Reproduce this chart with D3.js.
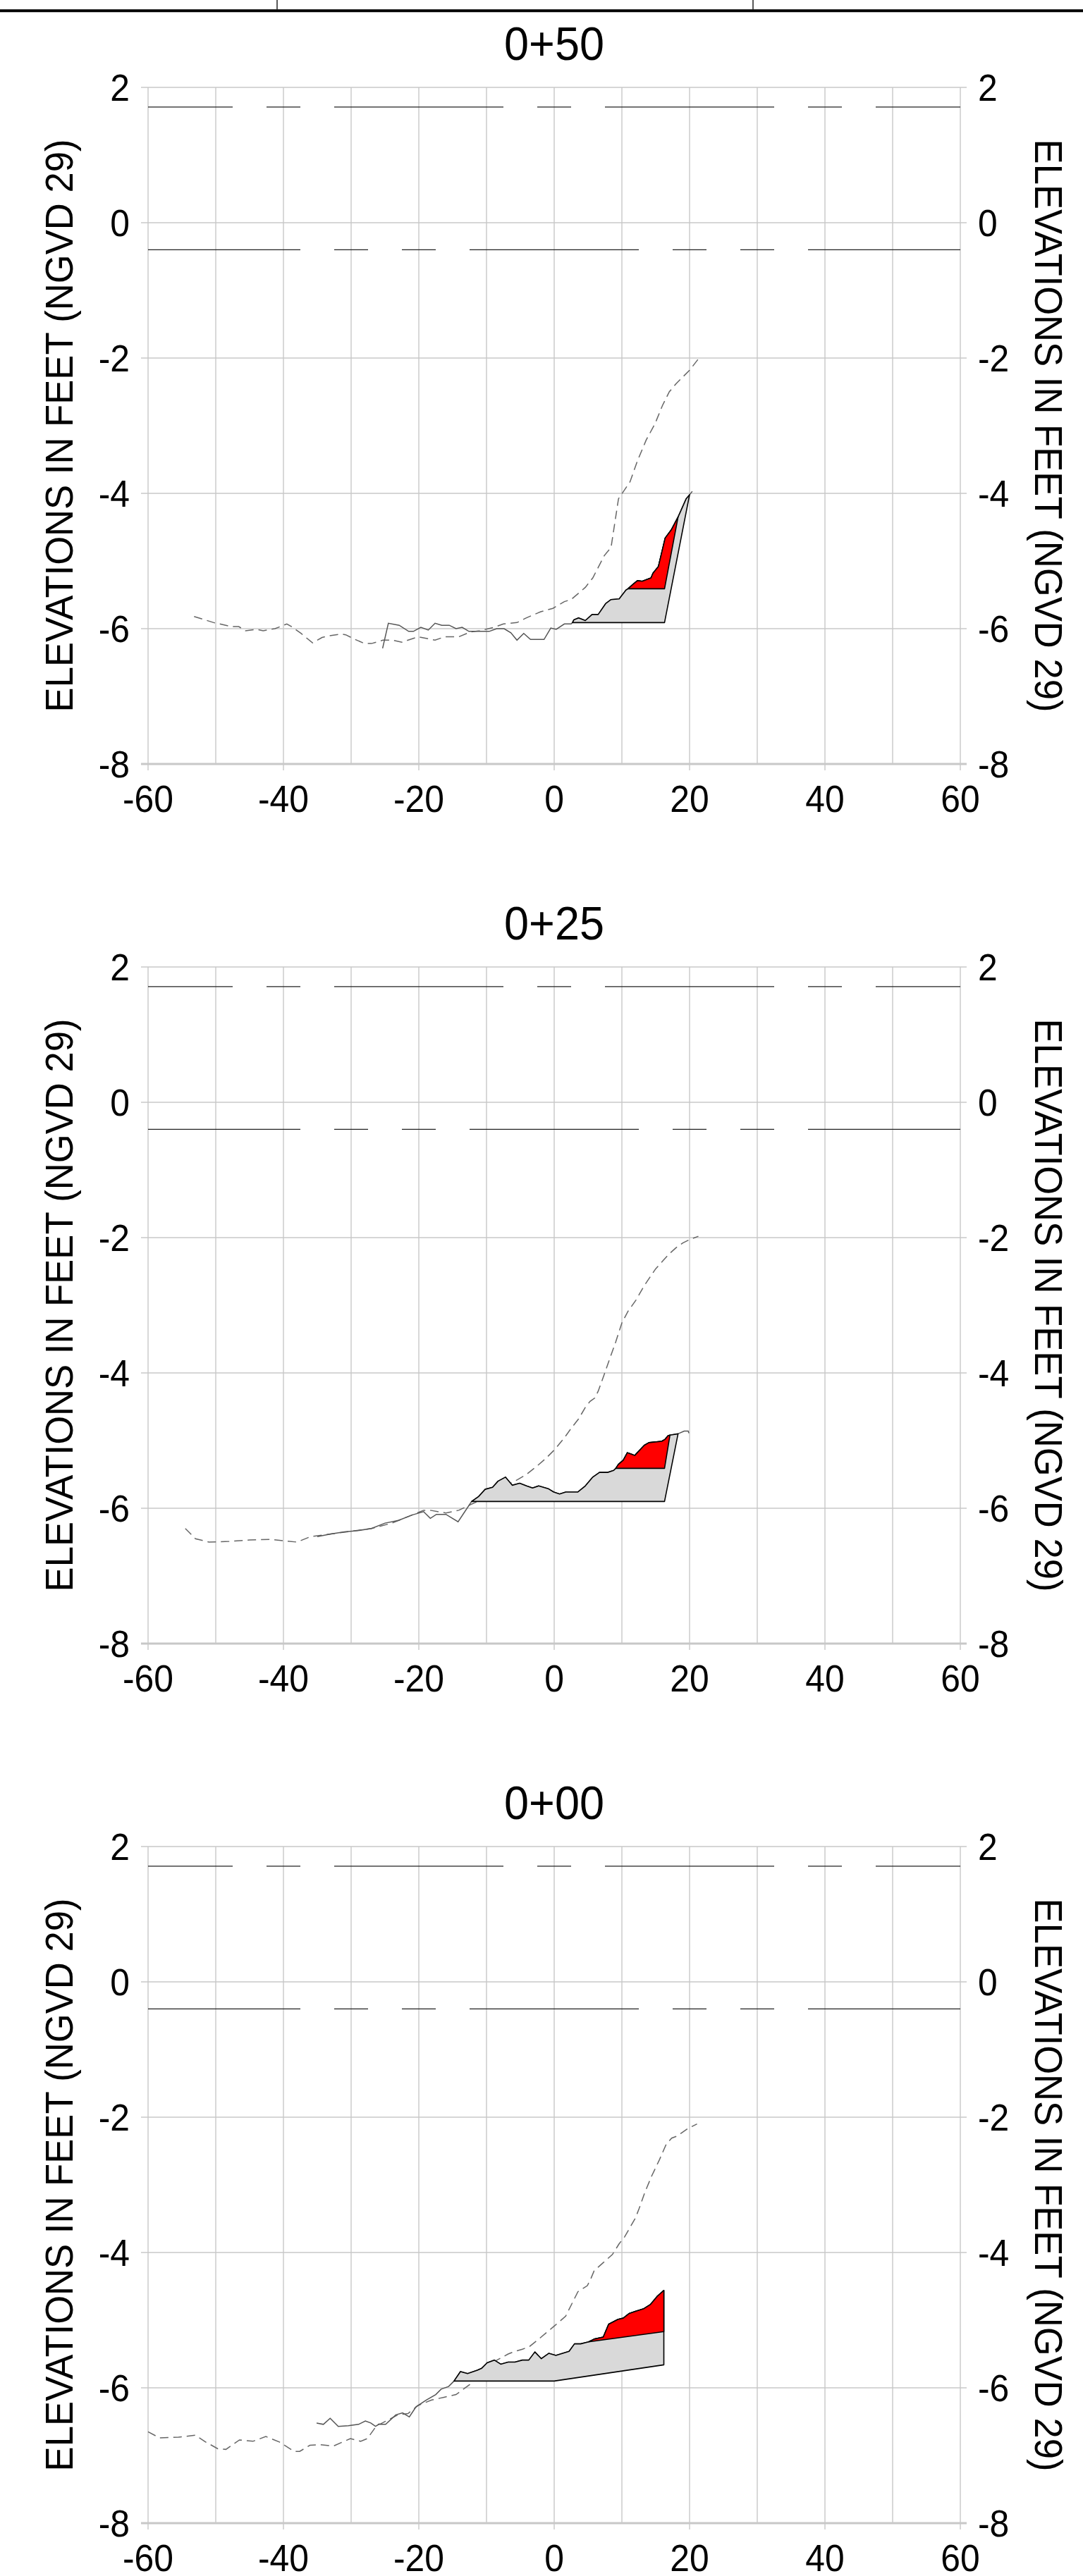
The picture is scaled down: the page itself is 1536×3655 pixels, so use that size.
<!DOCTYPE html>
<html><head><meta charset="utf-8">
<script src="https://cdn.jsdelivr.net/npm/d3@7"></script>
<style>body{margin:0;background:#fff}svg{display:block}</style>
</head><body>
<svg id="c" width="1536" height="3655"></svg>
<script>
// ---------- data ----------
const stations = ["0+50", "0+25", "0+00"];
const xTicks = [-60, -40, -20, 0, 20, 40, 60];
const xGrid = [-60, -50, -40, -30, -20, -10, 0, 10, 20, 30, 40, 50, 60];
const yTicks = [-8, -6, -4, -2, 0, 2];
const axisTitle = "ELEVATIONS IN FEET (NGVD 29)";
const waterLevels = [1.71, -0.40];

// panel 0+50
const survey050 = [[-25.35,-6.29],[-24.5,-5.92],[-22.9,-5.95],[-21.5,-6.04],[-20.8,-6.04],[-19.7,-5.98],[-18.6,-6.02],[-17.6,-5.92],[-16.6,-5.95],[-15.5,-5.95],[-14.5,-6.0],[-13.6,-5.98],[-12.6,-6.04],[-11.4,-6.04],[-9.6,-6.04],[-8.5,-6.0],[-7.4,-6.0],[-6.4,-6.06],[-5.5,-6.17],[-4.5,-6.07],[-3.5,-6.16],[-1.5,-6.16],[-0.5,-5.99],[0.3,-6.01],[1.5,-5.93],[2.5,-5.93],[2.7,-5.91],[2.9,-5.87],[3.6,-5.84],[4.6,-5.88],[5.6,-5.79],[6.5,-5.79],[7.6,-5.63],[8.4,-5.57],[9.6,-5.56],[10.6,-5.43],[10.9,-5.41],[11.7,-5.34],[12.3,-5.29],[13.0,-5.30],[14.3,-5.25],[14.6,-5.18],[15.4,-5.08],[16.4,-4.66],[17.3,-4.54],[18.3,-4.35],[19.5,-4.08],[20.0,-4.02],[20.4,-3.97]];
const previous050 = [[-53.2,-5.82],[-50.3,-5.91],[-47.7,-5.97],[-46.6,-5.97],[-45.6,-6.03],[-44.0,-6.01],[-43.0,-6.03],[-41.25,-6.0],[-39.5,-5.93],[-38.8,-5.97],[-37.4,-6.07],[-35.7,-6.21],[-34.3,-6.13],[-33.5,-6.11],[-31.5,-6.08],[-30.8,-6.09],[-29.4,-6.16],[-28.0,-6.22],[-27.0,-6.22],[-25.3,-6.17],[-23.9,-6.17],[-22.5,-6.2],[-20.1,-6.12],[-17.6,-6.17],[-16.2,-6.12],[-14.1,-6.12],[-12.4,-6.05],[-11.0,-6.03],[-8.9,-5.98],[-7.5,-5.93],[-5.5,-5.91],[-4.1,-5.84],[-2.0,-5.75],[-0.2,-5.70],[1.5,-5.6],[2.5,-5.57],[4.6,-5.39],[5.7,-5.25],[7.4,-4.92],[8.4,-4.80],[9.5,-4.08],[11.2,-3.83],[12.3,-3.52],[13.6,-3.21],[14.9,-2.97],[16.0,-2.7],[17.0,-2.5],[18.0,-2.38],[19.0,-2.28],[20.0,-2.18],[21.4,-2.0]];
const template050 = [[2.7,-5.91],[16.3,-5.91],[20.0,-4.02]];
const fill050 = [[10.9,-5.41],[16.3,-5.41],[18.3,-4.35]];

// panel 0+25
const survey025 = [[-35,-6.42],[-33,-6.38],[-31,-6.35],[-29,-6.33],[-27,-6.3],[-25,-6.22],[-23,-6.18],[-21,-6.1],[-19.3,-6.05],[-18.3,-6.15],[-17.4,-6.09],[-16.0,-6.09],[-14.2,-6.2],[-12.2,-5.9],[-11.2,-5.83],[-10.2,-5.72],[-9.1,-5.69],[-8.3,-5.60],[-7.2,-5.54],[-6.2,-5.66],[-5.1,-5.63],[-4.1,-5.67],[-3.2,-5.70],[-2.3,-5.67],[-0.9,-5.71],[-0.07,-5.76],[0.8,-5.79],[1.7,-5.76],[3.5,-5.76],[4.6,-5.67],[5.7,-5.54],[6.7,-5.47],[7.9,-5.47],[8.8,-5.44],[9.1,-5.41],[9.5,-5.35],[10.2,-5.29],[10.8,-5.18],[11.4,-5.20],[11.9,-5.22],[13.3,-5.07],[14.0,-5.03],[15.9,-5.01],[16.4,-4.98],[16.8,-4.93],[17.1,-4.92],[18.3,-4.90],[19.2,-4.86],[19.8,-4.86],[19.9,-4.89]];
const previous025 = [[-54.5,-6.3],[-53,-6.45],[-51,-6.5],[-48,-6.49],[-45,-6.47],[-42,-6.46],[-40,-6.48],[-38,-6.5],[-36,-6.42],[-33,-6.38],[-30,-6.34],[-27,-6.3],[-24,-6.22],[-21,-6.1],[-19.3,-6.03],[-18.3,-6.03],[-16.0,-6.07],[-14.1,-6.03],[-12,-5.93],[-9,-5.8],[-6.3,-5.62],[-5.45,-5.58],[-4.1,-5.50],[-2.7,-5.39],[-1.3,-5.27],[0.1,-5.13],[1.5,-4.96],[2.5,-4.82],[3.6,-4.68],[4.6,-4.51],[5.3,-4.42],[6.0,-4.37],[6.5,-4.27],[7.4,-4.02],[8.1,-3.82],[9.1,-3.54],[10.0,-3.26],[10.9,-3.09],[12.1,-2.92],[13.3,-2.71],[15.0,-2.46],[16.0,-2.35],[17.0,-2.24],[18.0,-2.15],[19.0,-2.08],[20.0,-2.03],[21.3,-1.98]];
const template025 = [[-12.2,-5.9],[16.3,-5.9],[18.3,-4.90]];
const fill025 = [[9.1,-5.41],[16.3,-5.41],[17.1,-4.92]];

// panel 0+00
const survey000 = [[-35.1,-6.52],[-34.1,-6.54],[-33.1,-6.45],[-31.9,-6.57],[-30.4,-6.56],[-28.9,-6.54],[-27.9,-6.49],[-27.1,-6.52],[-26.4,-6.57],[-25.9,-6.54],[-24.9,-6.54],[-23.4,-6.40],[-22.4,-6.37],[-21.4,-6.43],[-20.4,-6.28],[-18.9,-6.18],[-17.5,-6.10],[-16.7,-6.02],[-15.6,-5.98],[-14.8,-5.90],[-13.85,-5.76],[-12.8,-5.79],[-11.35,-5.74],[-10.7,-5.71],[-9.9,-5.63],[-8.85,-5.59],[-7.9,-5.65],[-6.8,-5.62],[-5.8,-5.62],[-4.7,-5.59],[-3.75,-5.59],[-2.85,-5.47],[-1.9,-5.57],[-0.8,-5.49],[0.25,-5.52],[2.2,-5.46],[3.0,-5.35],[3.9,-5.35],[5.1,-5.32],[5.9,-5.28],[7.25,-5.25],[8.05,-5.06],[9.4,-4.99],[10.2,-4.97],[11.1,-4.90],[12.0,-4.87],[13.25,-4.83],[14.2,-4.77],[15.2,-4.65],[16.2,-4.56]];
const previous000 = [[-60,-6.65],[-58.3,-6.74],[-55.5,-6.73],[-53.0,-6.70],[-51.5,-6.80],[-49.7,-6.9],[-48.5,-6.91],[-46.5,-6.77],[-44.5,-6.79],[-42.6,-6.72],[-40.6,-6.80],[-38.4,-6.94],[-37.6,-6.94],[-36.1,-6.85],[-34.6,-6.84],[-32.6,-6.86],[-30.1,-6.75],[-28.6,-6.79],[-27.6,-6.75],[-26.1,-6.54],[-25.6,-6.53],[-23.1,-6.40],[-21.6,-6.38],[-20.1,-6.26],[-18.1,-6.18],[-16.3,-6.14],[-14.5,-6.10],[-12.2,-5.93],[-10.5,-5.75],[-9.0,-5.62],[-7.9,-5.56],[-6.8,-5.50],[-5.8,-5.46],[-4.7,-5.43],[-3.65,-5.39],[-2.05,-5.26],[0.1,-5.08],[1.7,-4.94],[2.7,-4.74],[3.5,-4.58],[4.9,-4.49],[5.4,-4.39],[5.9,-4.27],[7.25,-4.15],[8.6,-4.03],[9.6,-3.87],[10.4,-3.77],[11.2,-3.63],[12.0,-3.49],[12.55,-3.35],[13.4,-3.11],[14.4,-2.87],[15.5,-2.64],[16.55,-2.40],[17.35,-2.31],[18.15,-2.28],[18.7,-2.24],[19.7,-2.17],[21.1,-2.10]];
const template000 = [[-14.8,-5.90],[0,-5.90],[16.2,-5.66],[16.2,-4.56]];
const fill000 = [[5.1,-5.32],[16.2,-5.17],[16.2,-4.56]];

const surveys = [survey050, survey025, survey000];
const previous = [previous050, previous025, previous000];
const templates = [template050, template025, template000];
const fills = [fill050, fill025, fill000];

// ---------- drawing ----------
const svg = d3.select("#c");
svg.append("rect").attr("width",1536).attr("height",3655).attr("fill","#fff");
const FONT = "'Liberation Sans', Arial, Helvetica, sans-serif";
const SQ = 0.94; // glyph condensation

// page frame at the top
svg.append("line").attr("x1",0).attr("x2",1536).attr("y1",15.3).attr("y2",15.3)
  .attr("stroke","#000").attr("stroke-width",4);
[393,1068].forEach(xx => svg.append("line").attr("x1",xx).attr("x2",xx).attr("y1",0).attr("y2",13.5)
  .attr("stroke","#000").attr("stroke-width",1.3));

const x = d3.scaleLinear().domain([-60,60]).range([210,1362]);
const y = d3.scaleLinear().domain([-8,2]).range([1084,124]);
const unit = x(1) - x(0);
const line = d3.line().x(d => x(d[0])).y(d => y(d[1]));

function txt(g, s, tx, ty, size, anchor, rot) {
  g.append("text")
    .attr("transform", `translate(${tx},${ty})` + (rot ? ` rotate(${rot})` : "") + ` scale(${SQ},1)`)
    .attr("text-anchor", anchor).attr("font-family", FONT).attr("font-size", size)
    .attr("fill","#000").text(s);
}

function polygonOf(base, profile) {
  const x0 = base[0][0], x1 = base[base.length-1][0];
  const top = profile.filter(d => d[0] > x0 && d[0] < x1).slice().reverse();
  return base.concat(top);
}

stations.forEach((st, p) => {
  const g = svg.append("g").attr("transform", `translate(0,${p*1248})`);

  // grid
  g.append("g").selectAll("line").data(xGrid).join("line")
    .attr("x1", d => x(d)).attr("x2", d => x(d))
    .attr("y1", y(2)).attr("y2", d => xTicks.includes(d) ? y(-8)+9 : y(-8))
    .attr("stroke","#c8c8c8").attr("stroke-width",1.4);
  g.append("g").selectAll("line").data(yTicks).join("line")
    .attr("x1", x(-60)-10).attr("x2", x(60)+9)
    .attr("y1", d => y(d)).attr("y2", d => y(d))
    .attr("stroke","#c8c8c8").attr("stroke-width", d => d === -8 ? 3 : 1.4);

  // tick labels
  yTicks.forEach(v => {
    txt(g, String(v), 184, y(v) + 19, 53, "end");
    txt(g, String(v), 1387, y(v) + 19, 53, "start");
  });
  xTicks.forEach(v => txt(g, String(v), x(v), y(-8) + 68, 53, "middle"));

  // titles
  txt(g, st, (x(-60)+x(60))/2, y(2) - 39, 67, "middle");
  txt(g, axisTitle, 103, (y(2)+y(-8))/2, 56, "middle", -90);
  txt(g, axisTitle, 1468, (y(2)+y(-8))/2, 56, "middle", 90);

  // water levels
  g.append("line").attr("x1",x(-60)).attr("x2",x(60)).attr("y1",y(waterLevels[0])).attr("y2",y(waterLevels[0]))
    .attr("stroke","#222").attr("stroke-width",1.4)
    .attr("stroke-dasharray",[25,5,5,5].map(v=>v*unit).join(","))
    .attr("stroke-dashoffset",12.5*unit);
  g.append("line").attr("x1",x(-60)).attr("x2",x(60)).attr("y1",y(waterLevels[1])).attr("y2",y(waterLevels[1]))
    .attr("stroke","#222").attr("stroke-width",1.4)
    .attr("stroke-dasharray",[25,5,5,5,5,5].map(v=>v*unit).join(","))
    .attr("stroke-dashoffset",2.5*unit);

  // previous profile (dashed)
  g.append("path").attr("d", line(previous[p])).attr("fill","none")
    .attr("stroke","#666").attr("stroke-width",1.5).attr("stroke-dasharray","12,7");
  // survey profile (solid)
  g.append("path").attr("d", line(surveys[p])).attr("fill","none")
    .attr("stroke","#555").attr("stroke-width",1.5);

  // template (gray) and fill (red)
  g.append("path").attr("d", line(polygonOf(templates[p], surveys[p])) + "Z")
    .attr("fill","#d9d9d9").attr("stroke","#000").attr("stroke-width",1.6).attr("stroke-linejoin","round");
  g.append("path").attr("d", line(polygonOf(fills[p], surveys[p])) + "Z")
    .attr("fill","#ff0000").attr("stroke","#000").attr("stroke-width",1.6).attr("stroke-linejoin","round");
});
</script>
</body></html>
